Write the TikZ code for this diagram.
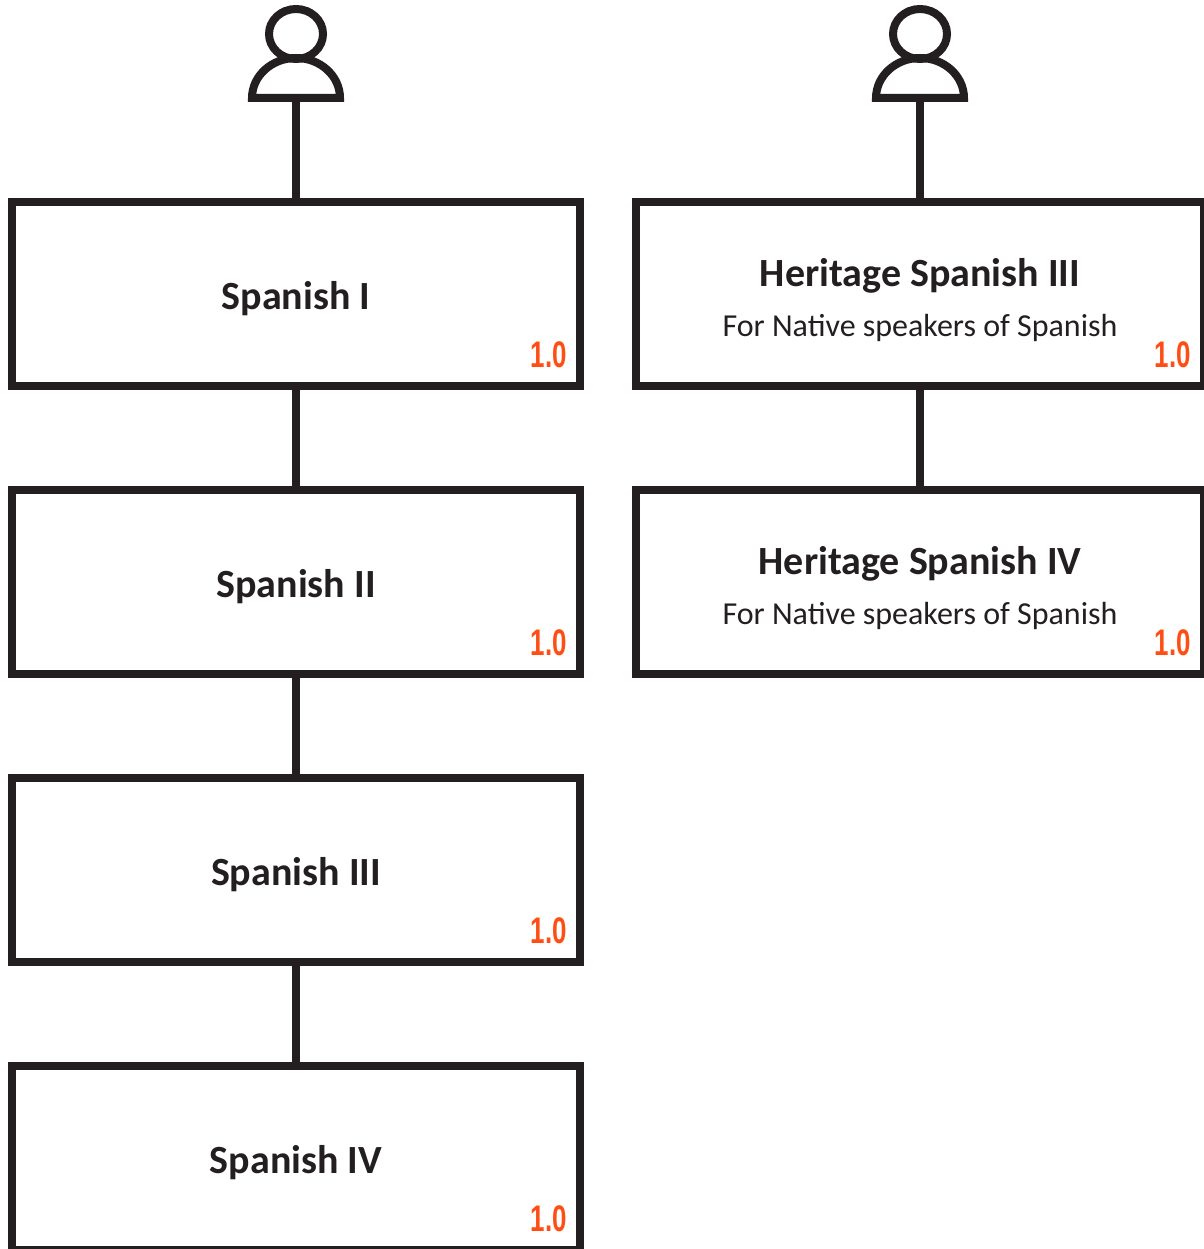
\documentclass[tikz,border=0pt]{standalone}
\usepackage{fontspec}
\setmainfont{Carlito}
\newfontfamily\creditfont[FakeStretch=0.7]{Liberation Sans}
\usetikzlibrary{positioning}

\definecolor{ink}{HTML}{231F20}
\definecolor{credit}{HTML}{FF4E14}

\begin{document}
\begin{tikzpicture}[
    x=1pt, y=-1pt,
    node distance=104pt,
    course/.style={rectangle, draw=ink, line width=8pt, outer sep=0pt, minimum width=568pt, minimum height=184pt, text=ink, align=center, text depth=0pt, font=\fontsize{40}{44}\bfseries\selectfont},
    creditlabel/.style={text=credit, font=\fontsize{37}{37}\creditfont\bfseries, inner sep=0pt, anchor=south east},
    link/.style={draw=ink, line width=8pt},
    person/.pic={
        \draw[ink, line width=8pt] (0,-64) ellipse[x radius=27, y radius=25];
        \draw[ink, line width=8pt, line join=miter] (-44,0) arc[start angle=180, end angle=360, x radius=44, y radius=40] -- cycle;
    }
]
\useasboundingbox (0,0) rectangle (1203,1249);

% Colonne de gauche
\node[course] (spanish1) at (296,294) {\rule{0pt}{31pt}Spanish I};
\node[course, below=of spanish1] (spanish2) {\rule{0pt}{31pt}Spanish II};
\node[course, below=of spanish2] (spanish3) {\rule{0pt}{31pt}Spanish III};
\node[course, below=of spanish3] (spanish4) {\rule{0pt}{31pt}Spanish IV};

% Colonne de droite
\node[course, right=56pt of spanish1] (heritage3) {\rule{0pt}{34pt}Heritage Spanish III\\[6pt]{\fontsize{32}{34}\mdseries\selectfont For Native speakers of Spanish}};
\node[course, below=of heritage3] (heritage4) {\rule{0pt}{34pt}Heritage Spanish IV\\[6pt]{\fontsize{32}{34}\mdseries\selectfont For Native speakers of Spanish}};

% Credits
\foreach \course in {spanish1, spanish2, spanish3, spanish4, heritage3, heritage4}
    \node[creditlabel] (credit-\course) at ([xshift=-13pt, yshift=18pt]\course.south east) {1.0};

% Persons
\coordinate (user1) at (296,98);
\coordinate (user2) at (920,98);
\pic at (user1) {person};
\pic at (user2) {person};

% Links
\draw[link] (user1) -- (spanish1);
\draw[link] (spanish1) -- (spanish2);
\draw[link] (spanish2) -- (spanish3);
\draw[link] (spanish3) -- (spanish4);
\draw[link] (user2) -- (heritage3);
\draw[link] (heritage3) -- (heritage4);

\end{tikzpicture}
\end{document}
